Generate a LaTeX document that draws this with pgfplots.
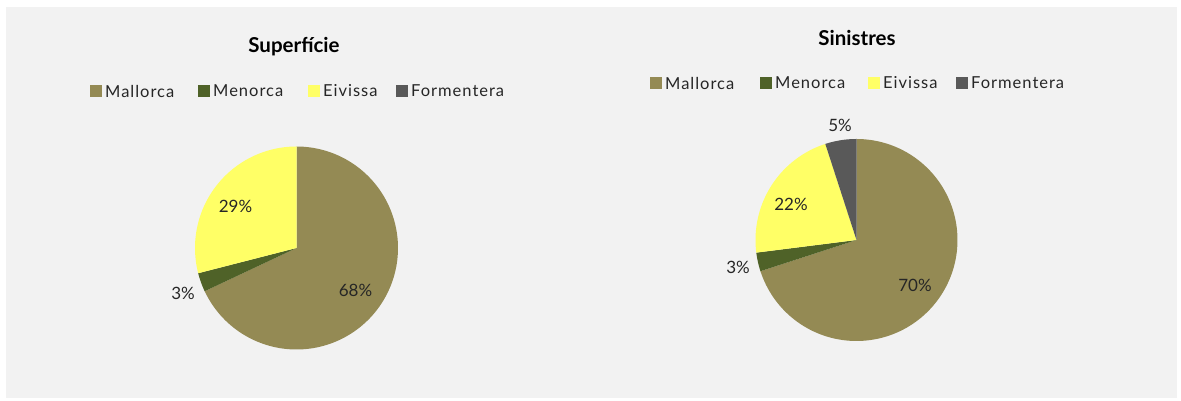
\documentclass[border=0pt]{standalone}
\usepackage{pgfplots}
\pgfplotsset{compat=1.18}
\usepackage{fontspec}
\setmainfont{Lato}
\newfontfamily\legfont[LetterSpace=6]{Lato}
\definecolor{bgc}{HTML}{F2F2F2}
\definecolor{cMal}{HTML}{948A54}
\definecolor{cMen}{HTML}{4F6228}
\definecolor{cEiv}{HTML}{FFFF66}
\definecolor{cFor}{HTML}{595959}
% \pieslice{cx}{cy}{r}{cumulative start %}{value %}{colour}
\newcommand{\pieslice}[6]{%
  \pgfmathsetmacro\pa{90-3.6*(#4)}%
  \pgfmathsetmacro\pb{90-3.6*((#4)+(#5))}%
  \edef\tmp{\noexpand\addplot[fill=#6, draw=none, domain=\pb:\pa, samples=120, variable=\noexpand\t] ({#1+#3*cos(\noexpand\t)},{#2+#3*sin(\noexpand\t)}) -- (axis cs:#1,#2) -- cycle;}%
  \tmp}
\tikzset{lbl/.style={font=\fontsize{17}{19}\selectfont, text=black!85, inner sep=0pt}}
\begin{document}
\begin{tikzpicture}[x=1pt,y=1pt]
\useasboundingbox (0,0) rectangle (1181,401);
\fill[white] (0,0) rectangle (1181,401);
\fill[bgc] (6,3) rectangle (1177,394);
\begin{axis}[scale only axis, hide axis, width=1181pt, height=401pt,
  xmin=0, xmax=1181, ymin=0, ymax=401, at={(0,0)}, anchor=south west, clip=false]
% ---------- Superficie: Mallorca 68, Menorca 3, Eivissa 29, Formentera 0 ----------
\pieslice{296.5}{153}{101.5}{0}{68}{cMal}
\pieslice{296.5}{153}{101.5}{68}{3}{cMen}
\pieslice{296.5}{153}{101.5}{71}{29}{cEiv}
\node[lbl] at (axis cs:355.5,111) {68\%};
\node[lbl] at (axis cs:183,108) {3\%};
\node[lbl] at (axis cs:235.5,195) {29\%};
% ---------- Sinistres: Mallorca 70, Menorca 3, Eivissa 22, Formentera 5 ----------
\pieslice{856.5}{161}{101}{0}{70}{cMal}
\pieslice{856.5}{161}{101}{70}{3}{cMen}
\pieslice{856.5}{161}{101}{73}{22}{cEiv}
\pieslice{856.5}{161}{101}{95}{5}{cFor}
\node[lbl] at (axis cs:915,116) {70\%};
\node[lbl] at (axis cs:738,134) {3\%};
\node[lbl] at (axis cs:791,197) {22\%};
\node[lbl] at (axis cs:840,276) {5\%};
\end{axis}
% titles
\node[font=\fontsize{20.5}{22}\selectfont\bfseries] at (294,354) {Superfície};
\node[font=\fontsize{20.5}{22}\selectfont\bfseries] at (857,363) {Sinistres};
% legends
\newcommand{\legitem}[4]{% x, y, colour, text
  \fill[#3] (#1,#2-6) rectangle (#1+12,#2+6);
  \node[anchor=west, inner sep=0pt, font=\legfont\fontsize{16.5}{18}\selectfont, text=black!85] at (#1+15,#2) {#4};}
\legitem{90}{310}{cMal}{Mallorca}
\legitem{198}{310}{cMen}{Menorca}
\legitem{308}{310}{cEiv}{Eivissa}
\legitem{396}{310}{cFor}{Formentera}
\legitem{650}{318}{cMal}{Mallorca}
\legitem{760}{318}{cMen}{Menorca}
\legitem{868}{318}{cEiv}{Eivissa}
\legitem{956}{318}{cFor}{Formentera}
\end{tikzpicture}
\end{document}
